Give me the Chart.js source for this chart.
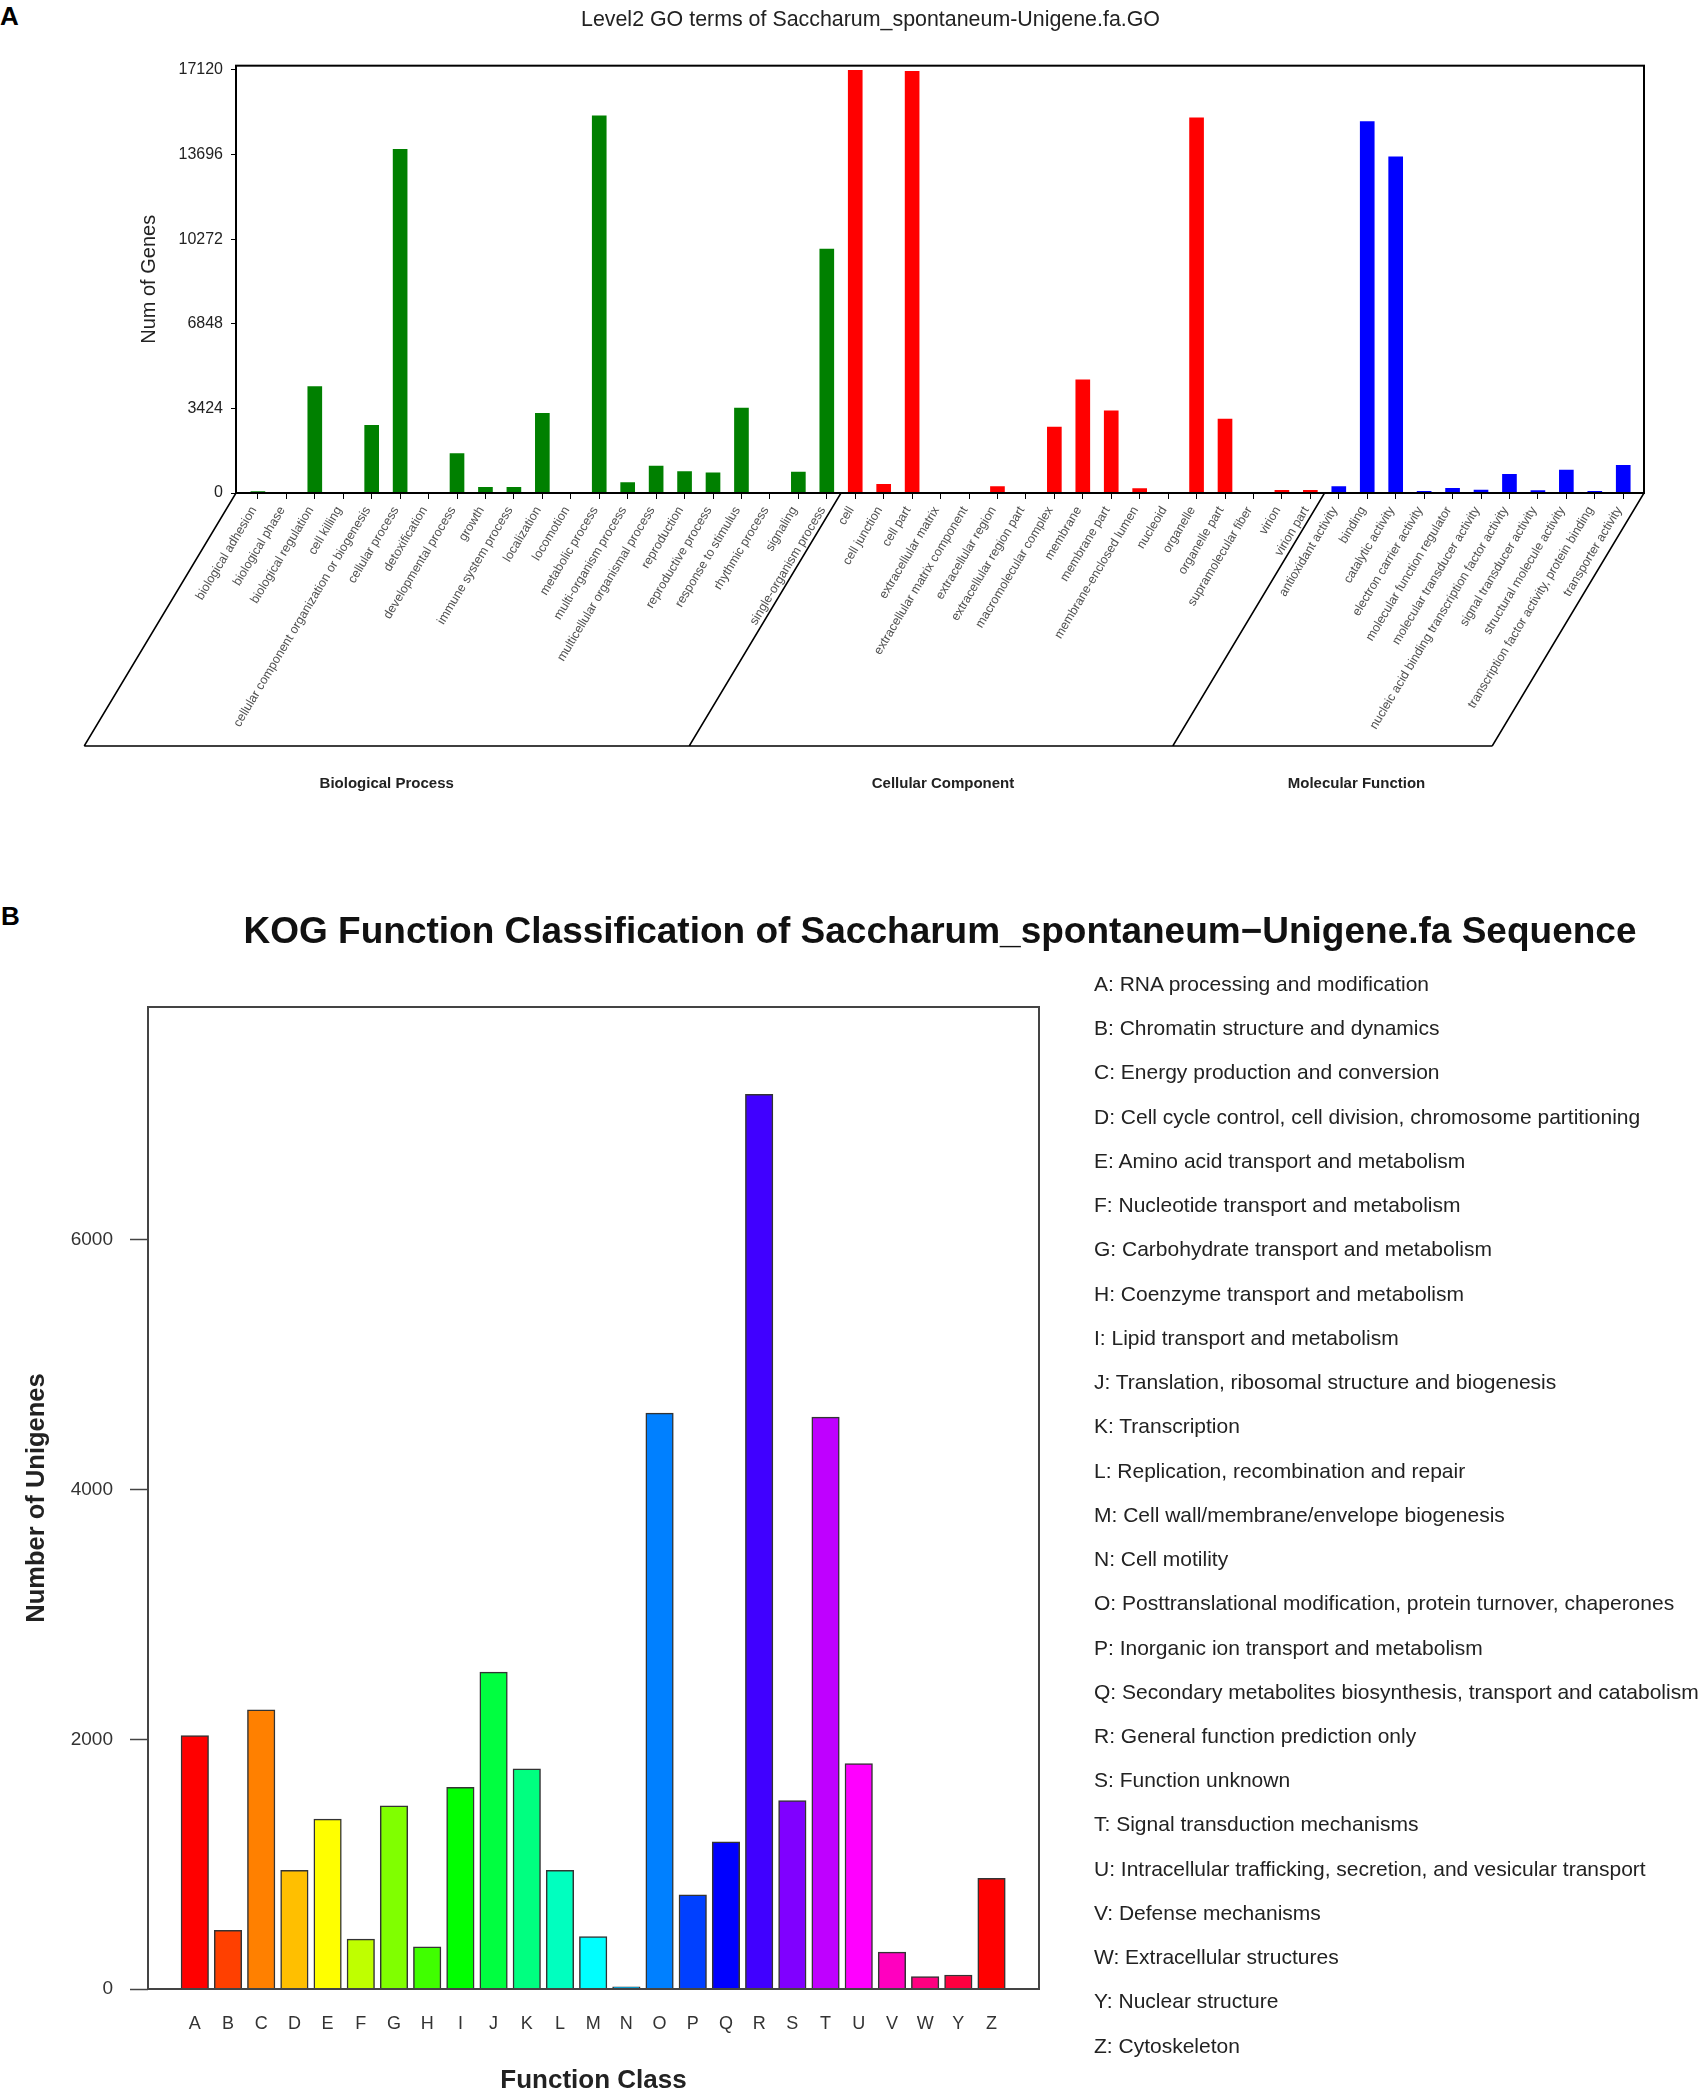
<!doctype html>
<html lang="en">
<head>
<meta charset="utf-8">
<title>GO / KOG classification</title>
<script src="https://cdn.jsdelivr.net/npm/chart.js@4.4.1/dist/chart.umd.min.js"></script>
<style>
  body { margin: 0; background: #fff; }
  #page { position: relative; width: 1704px; height: 2096px; font-family: 'Liberation Sans', Arial, sans-serif; }
  .panel { position: absolute; font-weight: bold; font-size: 26px; color: #000; }
  #goChart { position: absolute; left: 0; top: 0; }
  #kogChart { position: absolute; left: 0; top: 880px; }
  #kogLegend { position: absolute; left: 1094px; top: 962px; font-size: 21px; line-height: 44.23px; color: #222; white-space: nowrap; }
</style>
</head>
<body>
<div id="page">
  <div class="panel" style="left:0px; top:1px;">A</div>
  <canvas id="goChart" width="1704" height="810"></canvas>
  <div class="panel" style="left:1px; top:901px;">B</div>
  <canvas id="kogChart" width="1704" height="1216"></canvas>
  <div id="kogLegend"></div>
</div>

<script>
// ---- panel A : GO level 2 ----
const goTitle = 'Level2 GO terms of Saccharum_spontaneum-Unigene.fa.GO';
const goGroups = ['Biological Process', 'Cellular Component', 'Molecular Function'];
const goGroupSizes = [21, 17, 11];
const goGroupColors = ['#008000', '#ff0000', '#0000ff'];
const goTicks = [0, 3424, 6848, 10272, 13696, 17120];

const goTerms = [
  'biological adhesion', 'biological phase', 'biological regulation', 'cell killing',
  'cellular component organization or biogenesis', 'cellular process', 'detoxification',
  'developmental process', 'growth', 'immune system process', 'localization', 'locomotion',
  'metabolic process', 'multi-organism process', 'multicellular organismal process',
  'reproduction', 'reproductive process', 'response to stimulus', 'rhythmic process',
  'signaling', 'single-organism process',
  'cell', 'cell junction', 'cell part', 'extracellular matrix', 'extracellular matrix component',
  'extracellular region', 'extracellular region part', 'macromolecular complex', 'membrane',
  'membrane part', 'membrane-enclosed lumen', 'nucleoid', 'organelle', 'organelle part',
  'supramolecular fiber', 'virion', 'virion part',
  'antioxidant activity', 'binding', 'catalytic activity', 'electron carrier activity',
  'molecular function regulator', 'molecular transducer activity',
  'nucleic acid binding transcription factor activity', 'signal transducer activity',
  'structural molecule activity', 'transcription factor activity, protein binding',
  'transporter activity'
];
const goCounts = [
  60, 10, 4310, 8, 2740, 13910, 20, 1590, 230, 230, 3220, 20, 15260, 420, 1090,
  870, 820, 3440, 30, 850, 9870,
  17100, 350, 17060, 6, 4, 256, 27, 2670, 4580, 3320, 175, 10, 15180, 2990, 5, 108, 108,
  256, 15030, 13600, 67, 189, 121, 755, 94, 930, 67, 1120
];

// ---- panel B : KOG ----
const kogTitle = 'KOG Function Classification of Saccharum_spontaneum\u2212Unigene.fa Sequence';
const kogClasses = ['A','B','C','D','E','F','G','H','I','J','K','L','M','N','O','P','Q','R','S','T','U','V','W','Y','Z'];
const kogCounts = [2030, 470, 2235, 950, 1360, 400, 1467, 338, 1616, 2538, 1764, 950, 420, 18,
                   4612, 754, 1178, 7165, 1510, 4580, 1805, 295, 100, 112, 886];
const kogTicks = [0, 2000, 4000, 6000];
const kogColors = ['#ff0000','#ff4000','#ff8000','#ffbf00','#ffff00','#bfff00','#80ff00','#40ff00',
                   '#00ff00','#00ff40','#00ff80','#00ffbf','#00ffff','#00bfff','#0080ff','#0040ff',
                   '#0000ff','#4000ff','#8000ff','#bf00ff','#ff00ff','#ff00bf','#ff0080','#ff0040','#ff0000'];
const kogNames = [
  'RNA processing and modification',
  'Chromatin structure and dynamics',
  'Energy production and conversion',
  'Cell cycle control, cell division, chromosome partitioning',
  'Amino acid transport and metabolism',
  'Nucleotide transport and metabolism',
  'Carbohydrate transport and metabolism',
  'Coenzyme transport and metabolism',
  'Lipid transport and metabolism',
  'Translation, ribosomal structure and biogenesis',
  'Transcription',
  'Replication, recombination and repair',
  'Cell wall/membrane/envelope biogenesis',
  'Cell motility',
  'Posttranslational modification, protein turnover, chaperones',
  'Inorganic ion transport and metabolism',
  'Secondary metabolites biosynthesis, transport and catabolism',
  'General function prediction only',
  'Function unknown',
  'Signal transduction mechanisms',
  'Intracellular trafficking, secretion, and vesicular transport',
  'Defense mechanisms',
  'Extracellular structures',
  'Nuclear structure',
  'Cytoskeleton'
];

Chart.defaults.font.family = "'Liberation Sans', Arial, sans-serif";
Chart.defaults.color = '#222';

// colour of each GO bar follows its ontology group
const goBarColors = [];
goGroupSizes.forEach((n, g) => { for (let k = 0; k < n; k++) goBarColors.push(goGroupColors[g]); });

// frame + slanted group panel under the GO axis
const goFrame = {
  id: 'goFrame',
  afterDraw(chart) {
    const { ctx, chartArea: a, scales: { x } } = chart;
    const drop = 253, lean = 0.6;
    ctx.save();
    ctx.strokeStyle = '#000';
    ctx.lineWidth = 2;
    ctx.strokeRect(a.left, a.top, a.right - a.left, a.bottom - a.top);

    const edges = [a.left];
    let n = 0;
    goGroupSizes.forEach((size, g) => {
      n += size;
      edges.push(g < goGroupSizes.length - 1 ? x.getPixelForValue(n - 0.5) : a.right);
    });
    ctx.lineWidth = 1.5;
    ctx.beginPath();
    edges.forEach(ex => {
      ctx.moveTo(ex, a.bottom);
      ctx.lineTo(ex - drop * lean, a.bottom + drop);
    });
    ctx.moveTo(edges[0] - drop * lean, a.bottom + drop);
    ctx.lineTo(edges[edges.length - 1] - drop * lean, a.bottom + drop);
    ctx.stroke();

    ctx.fillStyle = '#222';
    ctx.font = "bold 15px 'Liberation Sans', Arial, sans-serif";
    ctx.textAlign = 'center';
    ctx.textBaseline = 'middle';
    goGroups.forEach((name, g) => {
      const cx = (edges[g] + edges[g + 1]) / 2 - drop * lean + g * 12;
      ctx.fillText(name, cx, a.bottom + 291);
    });
    ctx.restore();
  }
};

new Chart(document.getElementById('goChart'), {
  type: 'bar',
  data: {
    datasets: [{
      data: goCounts.map((v, i) => ({ x: i, y: v })),
      backgroundColor: goBarColors,
      borderWidth: 0,
      barThickness: 14
    }]
  },
  options: {
    responsive: false,
    animation: false,
    layout: { padding: { left: 97, right: 60, top: 7, bottom: 0 } },
    plugins: {
      legend: { display: false },
      tooltip: { enabled: false },
      title: {
        display: true,
        text: goTitle,
        color: '#222',
        font: { size: 21.4, weight: 'normal' },
        padding: { top: 0, bottom: 33 }
      }
    },
    scales: {
      x: {
        type: 'linear',
        min: -0.77,
        max: 48.73,
        offset: false,
        afterBuildTicks: s => { s.ticks = goTerms.map((t, i) => ({ value: i })); },
        afterFit: s => { s.height = 317; },
        ticks: {
          autoSkip: false,
          minRotation: 59,
          maxRotation: 59,
          padding: 5,
          labelOffset: -4,
          color: '#505050',
          font: { size: 12.5 },
          callback: v => goTerms[v]
        },
        grid: { display: true, offset: false, drawOnChartArea: false, drawTicks: true, tickLength: 6, tickColor: '#000' },
        border: { display: false }
      },
      y: {
        min: 0,
        max: 17290,
        afterBuildTicks: s => { s.ticks = goTicks.map(v => ({ value: v })); },
        afterFit: s => { s.width = 139; },
        ticks: { padding: 8, color: '#222', font: { size: 16 }, callback: v => String(v) },
        grid: { drawOnChartArea: false, tickLength: 5, tickColor: '#000' },
        border: { display: false },
        title: {
          display: true,
          text: 'Num of Genes',
          color: '#222',
          font: { size: 20 },
          padding: { top: 40, bottom: 0 }
        }
      }
    }
  },
  plugins: [goFrame]
});

// box and title for the KOG panel
const kogFrame = {
  id: 'kogFrame',
  afterDraw(chart) {
    const { ctx, chartArea: a } = chart;
    ctx.save();
    ctx.strokeStyle = '#444';
    ctx.lineWidth = 2;
    ctx.strokeRect(a.left, a.top, a.right - a.left, a.bottom - a.top);
    ctx.fillStyle = '#111';
    ctx.font = "bold 37px 'Liberation Sans', Arial, sans-serif";
    ctx.textAlign = 'center';
    ctx.textBaseline = 'middle';
    ctx.fillText(kogTitle, 940, 53);
    ctx.restore();
  }
};

new Chart(document.getElementById('kogChart'), {
  type: 'bar',
  data: {
    datasets: [{
      data: kogCounts.map((v, i) => ({ x: i, y: v })),
      backgroundColor: kogColors,
      borderColor: '#333',
      borderWidth: 1.5,
      barThickness: 27.5
    }]
  },
  options: {
    responsive: false,
    animation: false,
    layout: { padding: { left: 0, right: 665, top: 127, bottom: 0 } },
    plugins: { legend: { display: false }, tooltip: { enabled: false } },
    scales: {
      x: {
        type: 'linear',
        min: -1.41,
        max: 25.43,
        offset: false,
        afterBuildTicks: s => { s.ticks = kogClasses.map((c, i) => ({ value: i })); },
        afterFit: s => { s.height = 107; },
        ticks: {
          autoSkip: false,
          minRotation: 0,
          maxRotation: 0,
          padding: 24,
          color: '#333',
          font: { size: 18 },
          callback: v => kogClasses[v]
        },
        grid: { display: false, drawTicks: false, offset: false },
        border: { display: false },
        title: {
          display: true,
          text: 'Function Class',
          color: '#222',
          font: { size: 26, weight: 'bold' },
          padding: { top: 0, bottom: 0 }
        }
      },
      y: {
        min: 0,
        max: 7865,
        afterBuildTicks: s => { s.ticks = kogTicks.map(v => ({ value: v })); },
        afterFit: s => { s.width = 148; },
        ticks: { padding: 17, color: '#333', font: { size: 19 }, callback: v => String(v) },
        grid: { drawOnChartArea: false, tickLength: 18, tickColor: '#444', tickWidth: 1.5 },
        border: { display: false },
        title: {
          display: true,
          text: 'Number of Unigenes',
          color: '#222',
          font: { size: 25.5, weight: 'bold' },
          padding: { top: 22, bottom: 0 }
        }
      }
    }
  },
  plugins: [kogFrame]
});

document.getElementById('kogLegend').innerHTML =
  kogClasses.map((c, i) => '<div>' + c + ': ' + kogNames[i] + '</div>').join('');
</script>
</body>
</html>
